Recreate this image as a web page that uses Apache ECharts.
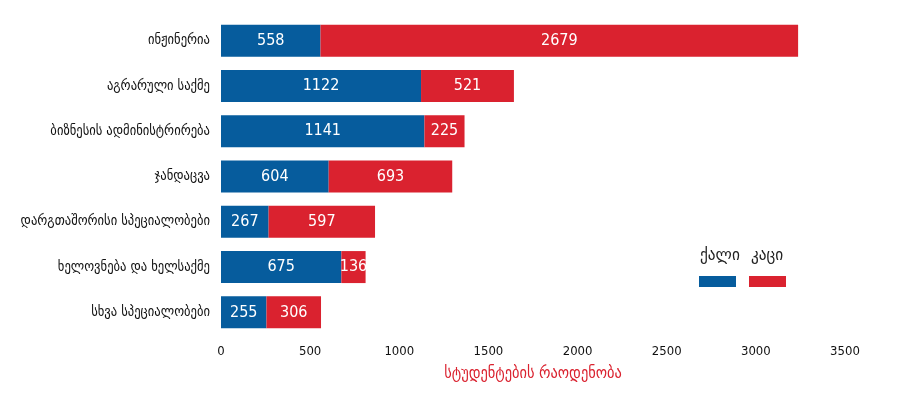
<!DOCTYPE html>
<html><head><meta charset="utf-8">
<script src="https://cdn.jsdelivr.net/npm/echarts@6/dist/echarts.min.js"></script>
<style>html,body{margin:0;padding:0;background:#fff}#c{width:900px;height:406px}</style>
</head><body><div id="c"></div>
<script>
const categories = ['ინჟინერია','აგრარული საქმე','ბიზნესის ადმინისტრირება','ჯანდაცვა','დარგთაშორისი სპეციალობები','ხელოვნება და ხელსაქმე','სხვა სპეციალობები'];
const women = [558, 1122, 1141, 604, 267, 675, 255];
const men = [2679, 521, 225, 693, 597, 136, 306];
const seriesNames = ['ქალი', 'კაცი'];
const axisTitle = 'სტუდენტების რაოდენობა';
const BLUE = '#065c9d', RED = '#da222f';
const FONT = "'DejaVu Sans Condensed','DejaVu Sans',sans-serif";
const NUMFONT = "'DejaVu Sans Condensed','DejaVu Sans',sans-serif";
const chart = echarts.init(document.getElementById('c'));
const lbl = {show:true, position:'inside', color:'#fff', fontFamily:NUMFONT, fontSize:16};
chart.setOption({
  animation:false,
  grid:{left:221, right:55, top:18, bottom:71},
  legend:{data:seriesNames, right:109, top:271, icon:'rect', itemWidth:37, itemHeight:11, itemGap:13, formatter:()=>'', textStyle:{fontSize:1}},
  graphic:[
    {type:'text', left:700, top:247, style:{text:seriesNames[0], font:"17px "+FONT, fill:'#222'}},
    {type:'text', left:751, top:247, style:{text:seriesNames[1], font:"17px "+FONT, fill:'#222'}}
  ],
  xAxis:{type:'value', min:0, max:3500, interval:500, splitLine:{show:false}, axisLine:{show:false}, axisTick:{show:false},
    axisLabel:{color:'#111', fontFamily:NUMFONT, fontSize:13, margin:10, formatter:v=>String(v)},
    name:axisTitle, nameLocation:'middle', nameGap:31, nameTextStyle:{color:RED, fontFamily:FONT, fontSize:16}},
  yAxis:{type:'category', data:categories, inverse:true, axisLine:{show:false}, axisTick:{show:false},
    axisLabel:{color:'#111', fontFamily:FONT, fontSize:14, margin:11}},
  series:[
    {name:seriesNames[0], type:'bar', stack:'a', data:women, barWidth:32, itemStyle:{color:BLUE}, label:lbl},
    {name:seriesNames[1], type:'bar', stack:'a', data:men, barWidth:32, itemStyle:{color:RED}, label:lbl}
  ]
});
</script></body></html>
